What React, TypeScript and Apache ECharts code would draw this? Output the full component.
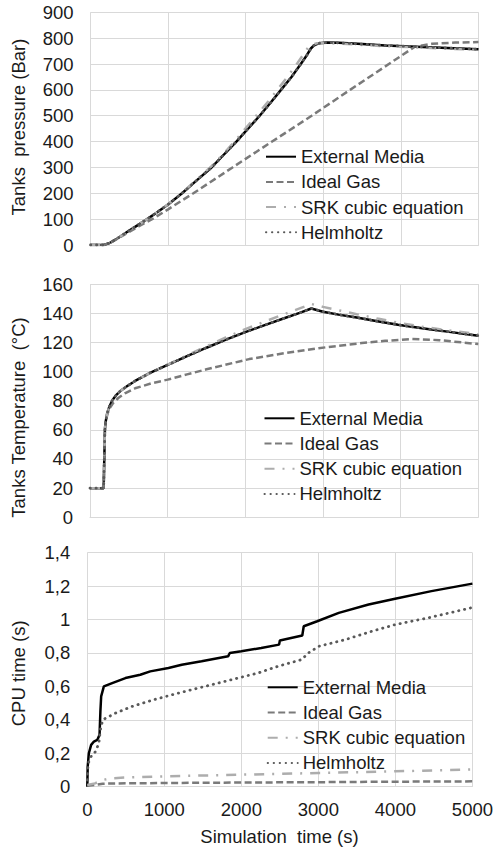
import React, { useEffect, useRef } from "react";
import * as echarts from "echarts";

const SERIES_NAMES = ["External Media", "Ideal Gas", "SRK cubic equation", "Helmholtz"];

// ---------- Chart 1: tanks pressure (Bar) ----------
const pressureTimeEM = [0, 170, 250, 350, 475, 600, 730, 850, 1000, 1180, 1350, 1560, 1720, 1880, 2030, 2180, 2320, 2455, 2590, 2710, 2790, 2840, 2880, 2940, 3050, 3200, 3500, 3800, 4200, 4600, 5000];
const pressureEM = [0, 0, 8, 26, 51, 75, 100, 125, 157, 200, 245, 300, 350, 400, 450, 500, 550, 600, 650, 700, 735, 760, 772, 780, 783, 782, 777, 772, 767, 762, 757];
const pressureHelm = [0, 0, 8, 26, 51, 75, 100, 125, 157, 200, 245, 300, 350, 400, 450, 500, 550, 600, 650, 700, 735, 760, 772, 780, 783, 782, 777, 772, 767, 762, 757];
const pressureTimeSRK = [0, 170, 250, 350, 475, 600, 730, 850, 1000, 1180, 1350, 1560, 1720, 1870, 2010, 2150, 2290, 2420, 2550, 2670, 2750, 2800, 2850, 2920, 3050, 3200, 3500, 3800, 4200, 4600, 5000];
const pressureSRK = [0, 0, 8, 26, 51, 75, 100, 125, 158, 202, 248, 305, 355, 405, 455, 505, 555, 605, 655, 705, 740, 762, 775, 780, 781, 779, 774, 769, 764, 759, 755];
const pressureTimeIdeal = [0, 170, 250, 350, 475, 620, 794, 1000, 1326, 1830, 2340, 2850, 3345, 3845, 4180, 4400, 4700, 5000];
const pressureIdeal = [0, 0, 8, 25, 47, 72, 100, 138, 200, 300, 400, 500, 600, 700, 767, 778, 783, 785];

// ---------- Chart 2: tanks temperature (°C) ----------
const tempTime = [0, 176, 186, 192, 200, 220, 250, 290, 340, 400, 480, 581, 773, 1000, 1250, 1500, 1750, 2000, 2250, 2500, 2700, 2850, 3000, 3200, 3433, 3700, 3966, 4300, 4650, 5000];
const tempEM = [20, 20, 45, 60, 65, 71, 76, 80.5, 84, 87, 90, 93.5, 99, 104.5, 110.5, 116.3, 121.8, 127, 131.8, 136.5, 140.2, 143.2, 141, 139, 137, 134.5, 132, 129.5, 127, 124.5];
const tempHelm = [20, 20, 45, 60, 65, 71, 76, 80.5, 84, 87, 90, 93.5, 99, 104.5, 110.5, 116.3, 121.8, 127, 131.8, 136.5, 140.2, 143.2, 141, 139, 137, 134.5, 132, 129.5, 127, 124.5];
const tempSRK = [20, 20, 45, 60, 65, 71, 76, 80.5, 84, 87, 90, 93.5, 99, 104.7, 111, 117.3, 123.3, 129, 134.2, 139.3, 143.3, 146.3, 144.3, 142, 139.3, 136.3, 133.5, 130.5, 128, 125.5];
const tempTimeIdeal = [0, 176, 186, 192, 200, 225, 255, 300, 368, 450, 581, 800, 1000, 1250, 1500, 2050, 2500, 2944, 3500, 3800, 4150, 4500, 5000];
const tempIdeal = [20, 20, 45, 60, 65, 71, 75, 78.5, 82, 85, 88.5, 92, 94.4, 98, 101.5, 108.5, 112.5, 116, 119.5, 121, 122.3, 121.5, 118.8];

// ---------- Chart 3: CPU time (s) ----------
const cpuTimeEM = [0, 5, 20, 50, 86, 129, 159, 170, 180, 215, 323, 495, 688, 817, 1054, 1226, 1484, 1828, 1850, 2000, 2258, 2490, 2500, 2791, 2810, 2985, 3265, 3652, 3996, 4468, 5000];
const cpuEM = [0, 0.12, 0.2, 0.25, 0.27, 0.28, 0.31, 0.45, 0.54, 0.6, 0.62, 0.65, 0.67, 0.69, 0.71, 0.73, 0.75, 0.78, 0.8, 0.81, 0.83, 0.85, 0.875, 0.905, 0.96, 0.99, 1.04, 1.09, 1.125, 1.17, 1.215];
const cpuTimeHelm = [0, 10, 25, 60, 107, 150, 170, 200, 366, 581, 860, 1183, 1527, 1785, 2043, 2215, 2473, 2780, 2870, 3007, 3351, 3695, 4000, 4425, 5000];
const cpuHelm = [0.04, 0.13, 0.16, 0.19, 0.21, 0.26, 0.34, 0.4, 0.44, 0.48, 0.52, 0.56, 0.6, 0.63, 0.66, 0.68, 0.72, 0.76, 0.8, 0.84, 0.88, 0.93, 0.97, 1.01, 1.072];
const cpuTimeIdeal = [0, 100, 200, 500, 1000, 2000, 3000, 4000, 5000];
const cpuIdeal = [0.005, 0.01, 0.018, 0.02, 0.022, 0.025, 0.027, 0.03, 0.032];
const cpuTimeSRK = [0, 100, 200, 300, 500, 1000, 2000, 3000, 4000, 5000];
const cpuSRK = [0.01, 0.02, 0.04, 0.05, 0.055, 0.062, 0.072, 0.082, 0.092, 0.103];

const AXIS_TITLES = ["Tanks  pressure (Bar)", "Tanks Temperature  (°C)", "CPU time (s)"];
const X_TITLE = "Simulation  time (s)";

const FONT = "'Liberation Sans', Arial, Helvetica, sans-serif";
const TEXT = "#1a1a1a";
const GRID = "#d9d9d9";

const LINE_STYLES: any[] = [
  { color: "#000000", type: "solid", width: 2.5 },
  { color: "#7a7a7a", type: [7, 3.5], width: 2.5 },
  { color: "#adadad", type: [10, 8, 2, 8], width: 2.5 },
  { color: "#595959", type: [0.3, 5.7], width: 2.8, cap: "round" },
];

const pairs = (t: number[], v: number[]) => t.map((x, i) => [x, v[i]]);

export default function App() {
  const ref = useRef<HTMLDivElement>(null);

  useEffect(() => {
    if (!ref.current) return;
    const chart = echarts.init(ref.current, null, { renderer: "svg" });

    const grids = [
      { left: 90.5, top: 12.3, width: 388, height: 232.7 },
      { left: 90, top: 284, width: 388.3, height: 233.3 },
      { left: 87.3, top: 552.7, width: 386, height: 234 },
    ];

    const yRanges = [
      { max: 900, interval: 100 },
      { max: 160, interval: 20 },
      { max: 1.4, interval: 0.2 },
    ];

    const xAxis = grids.map((_, i) => ({
      type: "value",
      gridIndex: i,
      min: 0,
      max: 5000,
      interval: 1000,
      axisLine: { show: true, lineStyle: { color: GRID, width: 1 } },
      axisTick: { show: false },
      axisLabel: {
        show: i === 2,
        margin: 13,
        fontSize: 18.5,
        color: TEXT,
        fontFamily: FONT,
        formatter: (v: number) => String(Math.round(v)),
      },
      splitLine: { show: true, lineStyle: { color: GRID, width: 1 } },
    }));

    const yAxis = yRanges.map((r, i) => ({
      type: "value",
      gridIndex: i,
      min: 0,
      max: r.max,
      interval: r.interval,
      axisLine: { show: false },
      axisTick: { show: false },
      axisLabel: {
        margin: 17,
        fontSize: 18.5,
        color: TEXT,
        fontFamily: FONT,
        formatter: (v: number) =>
          i === 2 ? String(Number(v.toFixed(1))).replace(".", ",") : String(Math.round(v)),
      },
      splitLine: { show: true, lineStyle: { color: GRID, width: 1 } },
    }));

    const dataSets = [
      [pairs(pressureTimeEM, pressureEM), pairs(pressureTimeIdeal, pressureIdeal), pairs(pressureTimeSRK, pressureSRK), pairs(pressureTimeEM, pressureHelm)],
      [pairs(tempTime, tempEM), pairs(tempTimeIdeal, tempIdeal), pairs(tempTime, tempSRK), pairs(tempTime, tempHelm)],
      [pairs(cpuTimeEM, cpuEM), pairs(cpuTimeIdeal, cpuIdeal), pairs(cpuTimeSRK, cpuSRK), pairs(cpuTimeHelm, cpuHelm)],
    ];

    const series: any[] = [];
    dataSets.forEach((sets, g) => {
      sets.forEach((data, k) => {
        series.push({
          type: "line",
          name: SERIES_NAMES[k],
          xAxisIndex: g,
          yAxisIndex: g,
          data,
          symbol: "none",
          showSymbol: false,
          smooth: false,
          lineStyle: LINE_STYLES[k],
          itemStyle: { color: LINE_STYLES[k].color },
          emphasis: { disabled: true },
        });
      });
    });

    const legendPos = [
      { left: 265, top: 147.2 },
      { left: 263.5, top: 408.8 },
      { left: 266.7, top: 677.8 },
    ];

    const legend = legendPos.map((p) => ({
      ...p,
      orient: "vertical",
      data: SERIES_NAMES,
      itemWidth: 30,
      itemHeight: 14,
      itemGap: 6.2,
      padding: 0,
      selectedMode: false,
      itemStyle: { opacity: 0, borderWidth: 0 },
      textStyle: { fontSize: 18.5, lineHeight: 19, color: TEXT, fontFamily: FONT },
    }));

    const titleCenters = [
      { x: 18, y: 127 },
      { x: 18, y: 417.5 },
      { x: 18.3, y: 673.3 },
    ];

    const graphic: any[] = titleCenters.map((c, i) => ({
      type: "text",
      x: c.x,
      y: c.y,
      rotation: Math.PI / 2,
      style: {
        text: AXIS_TITLES[i],
        fontSize: 18.5,
        fontFamily: FONT,
        fill: TEXT,
        textAlign: "center",
        textVerticalAlign: "middle",
      },
    }));
    graphic.push({
      type: "text",
      x: 279.5,
      y: 836,
      style: {
        text: X_TITLE,
        fontSize: 18.5,
        fontFamily: FONT,
        fill: TEXT,
        textAlign: "center",
        textVerticalAlign: "middle",
      },
    });

    chart.setOption({
      animation: false,
      backgroundColor: "#ffffff",
      grid: grids,
      xAxis,
      yAxis,
      legend,
      series,
      graphic,
    });

    return () => chart.dispose();
  }, []);

  return (
    <div
      ref={ref}
      style={{ position: "absolute", left: 0, top: 0, width: 496, height: 850, background: "#fff" }}
    />
  );
}
